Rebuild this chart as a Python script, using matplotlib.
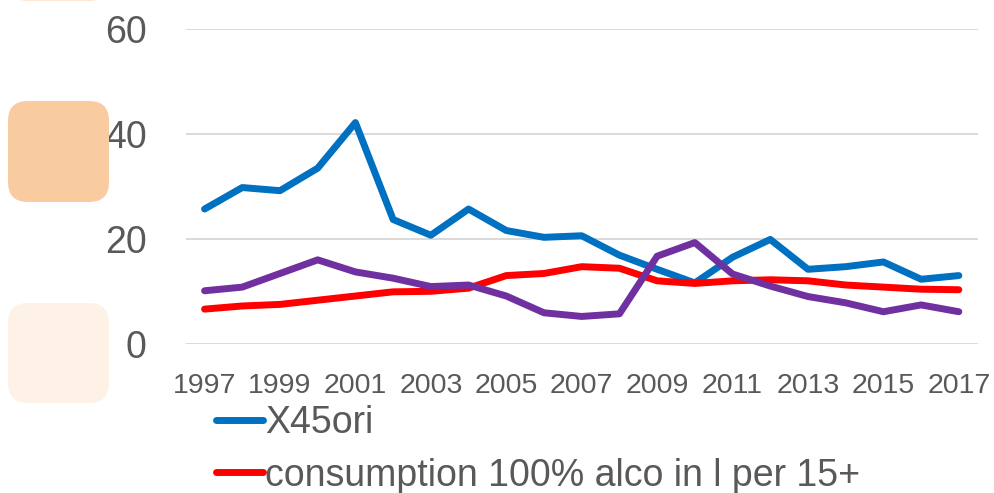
import matplotlib
matplotlib.use("Agg")
import matplotlib.pyplot as plt
from matplotlib.patches import FancyBboxPatch

#### data ######################################################################

years = list(range(1997, 2018))
x45ori = [25.7, 29.8, 29.2, 33.5, 42.2, 23.7, 20.7, 25.7, 21.6, 20.3, 20.6,
          16.9, 14.2, 11.6, 16.5, 19.9, 14.2, 14.7, 15.6, 12.3, 13.0]
consumption = [6.6, 7.2, 7.5, 8.3, 9.1, 9.9, 10.0, 10.6, 13.0, 13.4, 14.7,
               14.4, 12.0, 11.5, 12.0, 12.2, 12.0, 11.2, 10.8, 10.4, 10.3]
third = [10.1, 10.8, 13.4, 16.0, 13.7, 12.5, 10.9, 11.2, 9.1, 5.9, 5.2,
         5.7, 16.7, 19.3, 13.3, 11.0, 9.0, 7.8, 6.1, 7.4, 6.1]
yticks = [0, 20, 40, 60]
xlabels = [str(y) if (y - 1997) % 2 == 0 else '' for y in years]

#### plot ######################################################################

plt.rcParams['font.family'] = ['Liberation Sans', 'DejaVu Sans']
txt = '#595959'
W, H = 995, 493

fig = plt.figure(figsize=(W/100, H/100), dpi=100)
ax = fig.add_axes([185.7/W, 1-343.7/H, (977.7-185.7)/W, (343.7-29.3)/H])

# decorative rounded boxes at the left
for (x0, y0, x1, y1, c) in [(8, -100, 109, 1, '#FDE6D3'),
                            (8, 101, 109, 202, '#F8CBA0'),
                            (8, 303, 109, 403, '#FEF1E6')]:
    fig.patches.append(FancyBboxPatch((x0/W, 1-y1/H), (x1-x0)/W, (y1-y0)/H,
                                      boxstyle='round,pad=0,rounding_size=0.02',
                                      transform=fig.transFigure, fc=c, ec='none',
                                      mutation_aspect=W/H, zorder=0))

idx = list(range(len(years)))
kw = dict(lw=5, solid_capstyle='round', solid_joinstyle='round')
l1, = ax.plot(idx, x45ori, c='#0070C0', label='X45ori', **kw)
l2, = ax.plot(idx, consumption, c='#FF0000', label='consumption 100% alco in l per 15+', **kw)
ax.plot(idx, third, c='#7030A0', **kw)

ax.set_xlim(-0.5, len(years)-0.5)
ax.set_ylim(0, 60)
ax.set_yticks(yticks)
ax.set_xticks(idx)
ax.set_xticklabels(xlabels)
ax.grid(axis='y', color='#D9D9D9', lw=1.4)
ax.set_axisbelow(True)
for s in ax.spines.values():
    s.set_visible(False)
ax.tick_params(axis='y', length=0, pad=28, labelsize=27, labelcolor=txt)
ax.tick_params(axis='x', length=0, pad=21, labelsize=20.5, labelcolor=txt)
ax.patch.set_alpha(0)

fig.legend(handles=[l1, l2], loc='upper left', bbox_to_anchor=(216/W, 1-405/H),
           frameon=False, fontsize=27, handlelength=1.25, handletextpad=0.05,
           borderpad=0, borderaxespad=0, labelspacing=0.44, labelcolor=txt)

fig.savefig('out.png', dpi=100)
